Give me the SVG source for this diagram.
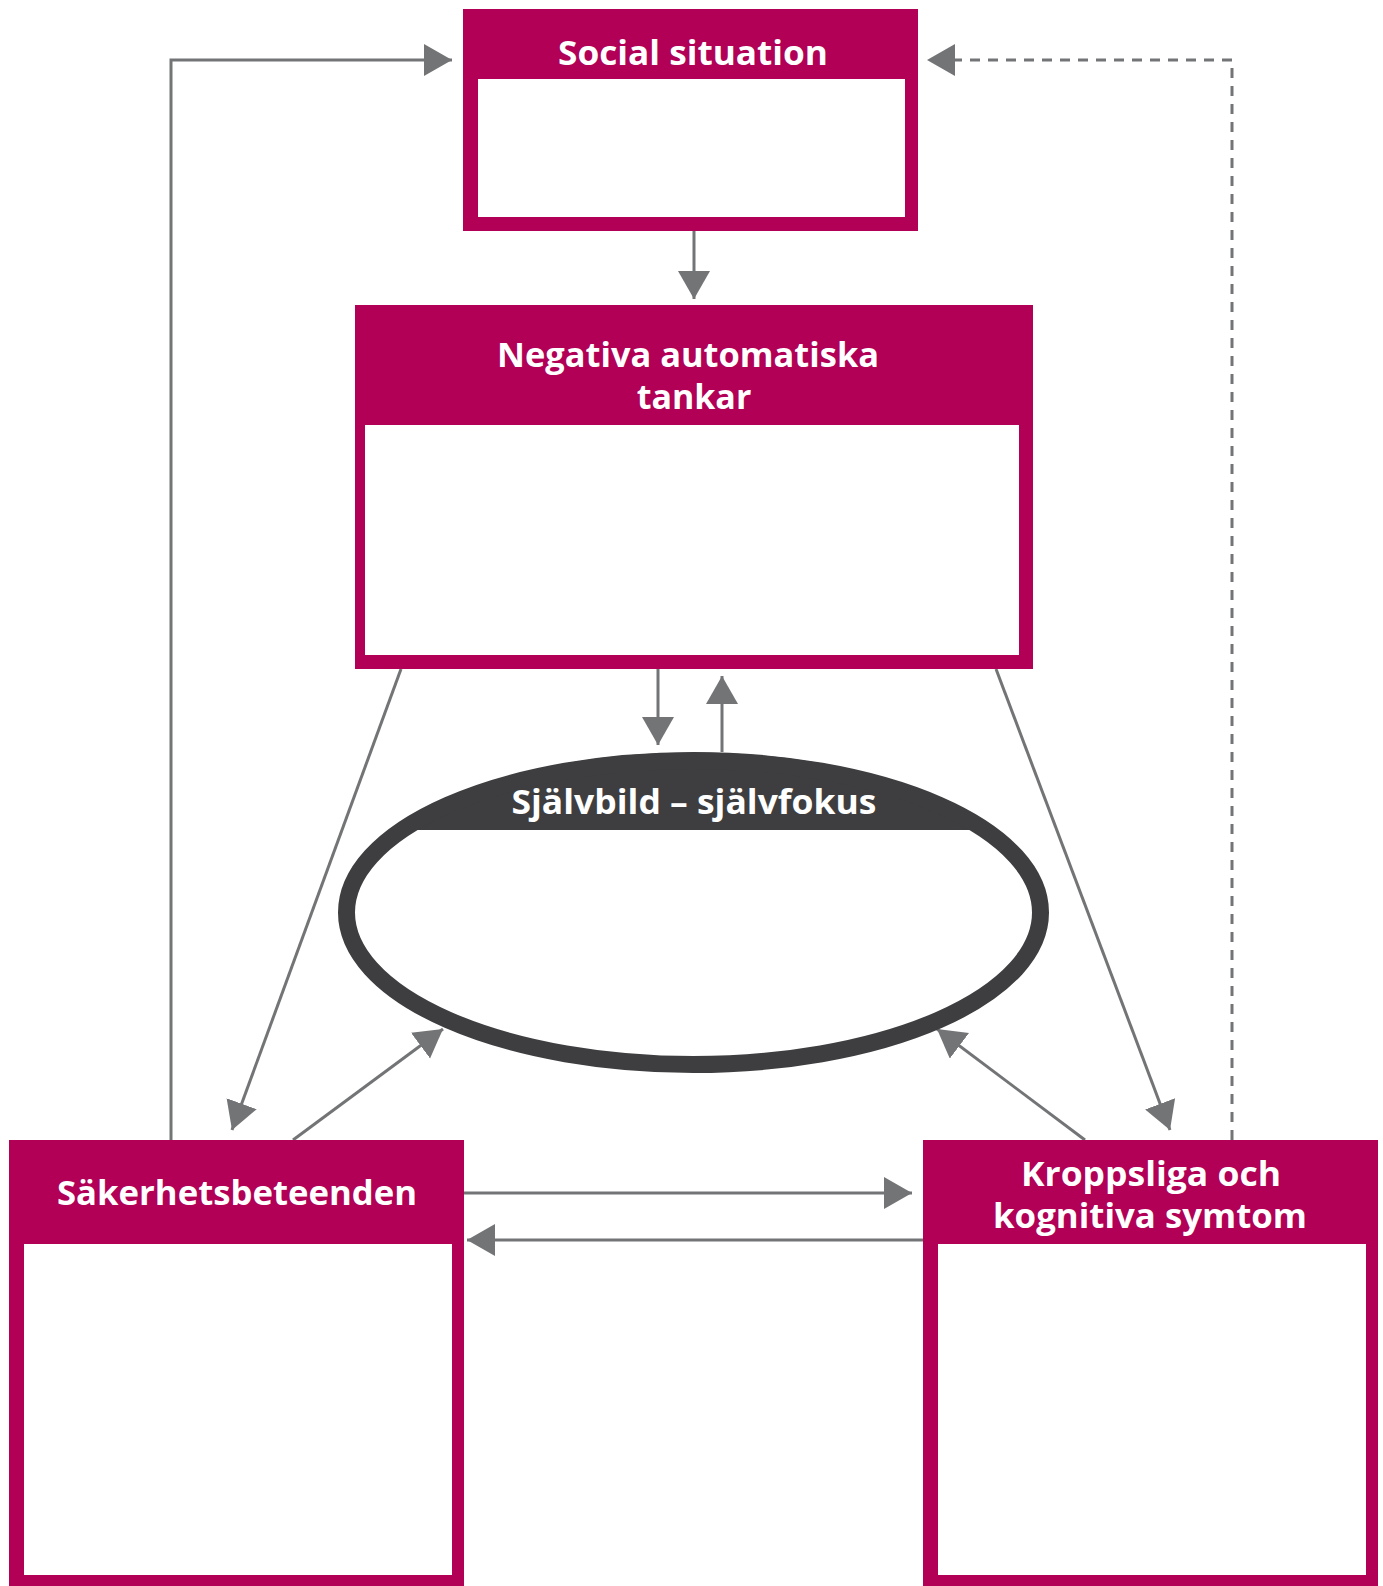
<svg xmlns="http://www.w3.org/2000/svg" width="1383" height="1586" viewBox="0 0 1383 1586">
<style>
.box{fill:#b10056}
.inner{fill:#ffffff}
.t{font-family:"Open Sans","Liberation Sans",sans-serif;font-weight:700;font-size:34px;fill:#ffffff;text-anchor:middle}
.c{fill:none;stroke:#737476;stroke-width:3}
.d{fill:none;stroke:#737476;stroke-width:3;stroke-dasharray:10 8}
</style>
<defs>
<marker id="ah" markerUnits="userSpaceOnUse" markerWidth="30" markerHeight="34" refX="28" refY="16" orient="auto">
<path d="M0,0 L28,16 L0,32 Z" fill="#737476"/>
</marker>
<clipPath id="ec"><ellipse cx="693.5" cy="912.5" rx="355" ry="160"/></clipPath>
</defs>
<rect width="1383" height="1586" fill="#ffffff"/>
<g id="connectors">
<path class="c" d="M694,231 L694,299" marker-end="url(#ah)"/>
<path class="c" d="M658,669 L658,745" marker-end="url(#ah)"/>
<path class="c" d="M722,752 L722,676" marker-end="url(#ah)"/>
<path class="c" d="M401,669 L232,1130" marker-end="url(#ah)"/>
<path class="c" d="M996,669 L1170,1130" marker-end="url(#ah)"/>
<path class="c" d="M293,1140 L443,1029" marker-end="url(#ah)"/>
<path class="c" d="M1085,1140 L937,1029" marker-end="url(#ah)"/>
<path class="c" d="M464,1193 L912,1193" marker-end="url(#ah)"/>
<path class="c" d="M923,1240 L467,1240" marker-end="url(#ah)"/>
<path class="c" d="M171,1140 L171,60 L452,60" marker-end="url(#ah)"/>
<path class="d" d="M1232,1140 L1232,60 L927,60" marker-end="url(#ah)"/>
</g>
<g id="social">
<rect class="box" x="463" y="9" width="455" height="222"/>
<rect class="inner" x="478" y="79" width="427" height="138"/>
<text class="t" x="693" y="65" textLength="270" lengthAdjust="spacingAndGlyphs">Social situation</text>
</g>
<g id="negativa">
<rect class="box" x="355" y="305" width="678" height="364"/>
<rect class="inner" x="365" y="425" width="654" height="230"/>
<text class="t" x="688" y="367" textLength="382" lengthAdjust="spacingAndGlyphs">Negativa automatiska</text>
<text class="t" x="694" y="409">tankar</text>
</g>
<g id="sjalvbild">
<ellipse cx="693.5" cy="912.5" rx="347" ry="152" fill="#ffffff"/>
<rect x="330" y="740" width="730" height="90" fill="#3e3e40" clip-path="url(#ec)"/>
<ellipse cx="693.5" cy="912.5" rx="347" ry="152" fill="none" stroke="#3e3e40" stroke-width="17"/>
<text class="t" x="694" y="814" textLength="365" lengthAdjust="spacingAndGlyphs">Självbild – självfokus</text>
</g>
<g id="sakerhet">
<rect class="box" x="9" y="1140" width="455" height="446"/>
<rect class="inner" x="24" y="1244" width="428" height="331"/>
<text class="t" x="237" y="1205" textLength="360" lengthAdjust="spacingAndGlyphs">Säkerhetsbeteenden</text>
</g>
<g id="kropp">
<rect class="box" x="923" y="1140" width="455" height="446"/>
<rect class="inner" x="938" y="1244" width="428" height="331"/>
<text class="t" x="1151" y="1186" textLength="260" lengthAdjust="spacingAndGlyphs">Kroppsliga och</text>
<text class="t" x="1150" y="1228" textLength="314" lengthAdjust="spacingAndGlyphs">kognitiva symtom</text>
</g>
</svg>
